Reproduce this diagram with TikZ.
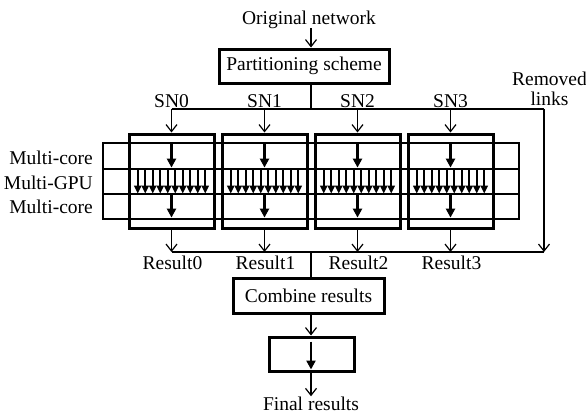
\documentclass[tikz,border=0pt]{standalone}
\usepackage{fontspec}
\setmainfont{Liberation Serif}
\usepackage{tikz}
\usetikzlibrary{arrows.meta, calc}
\tikzstyle{block} = [rectangle, draw=black, line width=3pt, inner sep=0pt]
\tikzstyle{row} = [rectangle, draw=black, line width=1.2pt, minimum width=416pt, inner sep=0pt]
\tikzstyle{txt} = [inner sep=0pt, anchor=base]
\tikzstyle{thinline} = [line width=1.2pt]
\tikzstyle{arrow} = [thinline, -{Straight Barb[length=7pt,width=11pt]}]
\tikzstyle{bigarrow} = [line width=2.8pt, -{Triangle[length=9pt,width=9pt]}, shorten >=2pt]
\tikzstyle{gpuarrow} = [line width=2.2pt, -{Triangle[length=8pt,width=7pt]}, shorten >=1pt]

\begin{document}
\begin{tikzpicture}[x=1pt, y=-1pt, font=\fontsize{19.5}{20.5}\selectfont]
\useasboundingbox (0,0) rectangle (586,415);

% Main nodes
\node (orig) [txt] at (309,24) {Original network};
\node (part) [block, minimum width=170pt, minimum height=34pt] at (304,66) {Partitioning scheme};
\coordinate (split) at (311,109);
\coordinate (rmtop) at (544,109);
\coordinate (rmbot) at (544,252);
\coordinate (join) at (311,252);

% Processing rows
\node (row1) [row, minimum height=26pt] at (311,156) {};
\node (row2) [row, minimum height=25pt] at (311,181.5) {};
\node (row3) [row, minimum height=25pt] at (311,206.5) {};
\node (core1) [txt, anchor=base east] at (93,164) {Multi-core};
\node (gpu) [txt, anchor=base east] at (93,189) {Multi-GPU};
\node (core2) [txt, anchor=base east] at (93,213) {Multi-core};

% Sub-network boxes
\node (sn0) [block, minimum width=85pt, minimum height=94pt] at (171.5,181) {};
\node (sn1) [block, minimum width=85pt, minimum height=94pt] at (264.5,181) {};
\node (sn2) [block, minimum width=85pt, minimum height=94pt] at (357.5,181) {};
\node (sn3) [block, minimum width=85pt, minimum height=94pt] at (450.5,181) {};
\node (lab0) [txt] at (171.5,107) {SN0};
\node (lab1) [txt] at (264.5,107) {SN1};
\node (lab2) [txt] at (357.5,107) {SN2};
\node (lab3) [txt] at (450.5,107) {SN3};
\node (res0) [txt] at (172.5,269) {Result0};
\node (res1) [txt] at (265.5,269) {Result1};
\node (res2) [txt] at (358.5,269) {Result2};
\node (res3) [txt] at (451.5,269) {Result3};
\node (removed) [align=center, inner sep=0pt] at (549.5,89) {Removed\\links};

\node (comb) [block, minimum width=151pt, minimum height=35pt] at (308.5,295.5) {Combine results};
\node (fin) [block, minimum width=85pt, minimum height=34pt] at (311.5,354) {};
\node (final) [txt] at (311,410) {Final results};

% Connections
\draw [arrow] (orig.south -| split) -- (part.north -| split);
\draw [thinline] (part.south -| split) -- (split);
\draw [thinline] (sn0.north |- split) -- (rmtop);
\draw [arrow] (rmtop) -- (rmbot);
\draw [thinline] (sn0.south |- join) -- (rmbot);
\foreach \b in {sn0,sn1,sn2,sn3} {
  \draw [arrow] (\b.north |- split) -- (\b.north);
  \draw [bigarrow] (\b |- row1.north) -- (\b |- row1.south);
  \foreach \k in {0,...,9}
    \draw [gpuarrow] ($(\b |- row2.north)+({-33.75+7.5*\k},0)$) -- ($(\b |- row2.south)+({-33.75+7.5*\k},0)$);
  \draw [bigarrow] (\b |- row3.north) -- (\b |- row3.south);
  \draw [arrow] (\b.south) -- (\b.south |- join);
}
\draw [thinline] (join) -- (comb.north -| join);
\draw [arrow] (comb.south -| join) -- (fin.north -| join);
\draw [bigarrow] ($(fin.north -| join)+(0,6)$) -- ($(fin.south -| join)+(0,-1)$);
\draw [arrow] (fin.south -| join) -- (final.north -| join);
\end{tikzpicture}
\end{document}
